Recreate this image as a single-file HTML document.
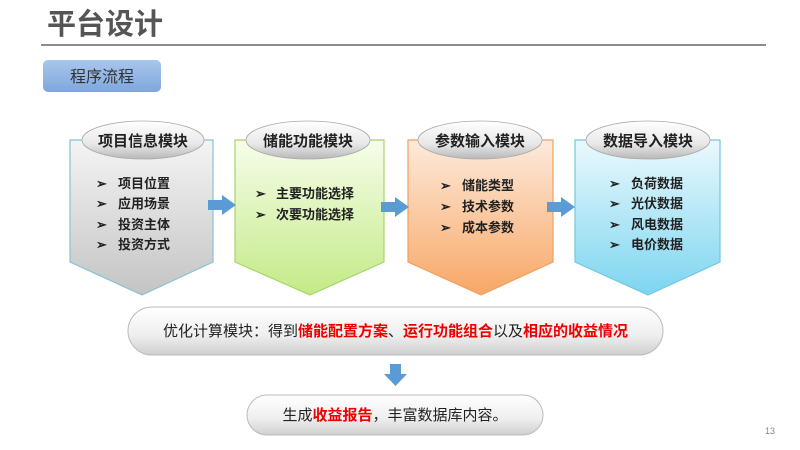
<!DOCTYPE html>
<html><head><meta charset="utf-8"><style>
html,body{margin:0;padding:0;background:#fff;}
svg{display:block;font-family:"Liberation Sans","Noto Sans CJK SC",sans-serif;}
</style></head><body>
<svg width="800" height="450" viewBox="0 0 800 450" xmlns="http://www.w3.org/2000/svg">
<defs>
<linearGradient id="g1" x1="0" y1="0" x2="0" y2="1"><stop offset="0" stop-color="#f4f4f4"/><stop offset="1" stop-color="#c4c4c4"/></linearGradient>
<linearGradient id="g2" x1="0" y1="0" x2="0" y2="1"><stop offset="0" stop-color="#f6fdea"/><stop offset="1" stop-color="#c4ea86"/></linearGradient>
<linearGradient id="g3" x1="0" y1="0" x2="0" y2="1"><stop offset="0" stop-color="#fdeadb"/><stop offset="1" stop-color="#f8a766"/></linearGradient>
<linearGradient id="g4" x1="0" y1="0" x2="0" y2="1"><stop offset="0" stop-color="#eaf9fd"/><stop offset="1" stop-color="#7dd5f0"/></linearGradient>
<linearGradient id="ge" x1="0" y1="0" x2="0" y2="1"><stop offset="0" stop-color="#ffffff"/><stop offset="0.6" stop-color="#e8e8e8"/><stop offset="1" stop-color="#b8b8b8"/></linearGradient>
<linearGradient id="gb" x1="0" y1="0" x2="0" y2="1"><stop offset="0" stop-color="#a9c6ec"/><stop offset="1" stop-color="#7fa7dc"/></linearGradient>
<linearGradient id="gp" x1="0" y1="0" x2="0" y2="1"><stop offset="0" stop-color="#ffffff"/><stop offset="0.6" stop-color="#eeeeee"/><stop offset="1" stop-color="#cfcfcf"/></linearGradient>
</defs>
<text x="47" y="34" font-size="29" font-weight="bold" fill="#555">平台设计</text>
<line x1="41" y1="45" x2="766" y2="45" stroke="#666" stroke-width="1.5"/>
<rect x="43" y="60" width="118" height="32" rx="5" fill="url(#gb)"/>
<text x="102" y="82" font-size="16" fill="#333" text-anchor="middle">程序流程</text>

<g stroke-width="1.2">
<path d="M70 140 H213 V262 L142 295 L70 262 Z" fill="url(#g1)" stroke="#86c3d4"/>
<path d="M235 140 H384 V262 L310 295 L235 262 Z" fill="url(#g2)" stroke="#a6d46a"/>
<path d="M408 140 H553 V262 L481 295 L408 262 Z" fill="url(#g3)" stroke="#f0a060"/>
<path d="M575 140 H720 V262 L648 295 L575 262 Z" fill="url(#g4)" stroke="#70c8e0"/>
</g>
<g fill="url(#ge)" stroke="#aaa" stroke-width="0.8">
<ellipse cx="143" cy="140" rx="61" ry="19"/>
<ellipse cx="308" cy="140" rx="62" ry="19"/>
<ellipse cx="480" cy="140" rx="62" ry="19"/>
<ellipse cx="648" cy="140" rx="62" ry="19"/>
</g>
<g font-size="15" font-weight="bold" fill="#222" text-anchor="middle">
<text x="143" y="146">项目信息模块</text>
<text x="308" y="146">储能功能模块</text>
<text x="480" y="146">参数输入模块</text>
<text x="648" y="146">数据导入模块</text>
</g>
<g fill="#5b9bd5">
<path d="M208 200 H222 V195 L236 205 L222 215 V210 H208 Z"/>
<path d="M381 202 H395 V197 L409 207 L395 217 V212 H381 Z"/>
<path d="M547 202 H561 V197 L575 207 L561 217 V212 H547 Z"/>
<path d="M390 364 H401 V374 H407 L395.5 386 L384 374 H390 Z"/>
</g>
<g font-size="13" font-weight="bold" fill="#222">
<text x="96" y="188">➢</text><text x="118" y="188">项目位置</text>
<text x="96" y="208">➢</text><text x="118" y="208">应用场景</text>
<text x="96" y="229">➢</text><text x="118" y="229">投资主体</text>
<text x="96" y="249">➢</text><text x="118" y="249">投资方式</text>
<text x="255" y="198">➢</text><text x="276" y="198">主要功能选择</text>
<text x="255" y="219">➢</text><text x="276" y="219">次要功能选择</text>
<text x="440" y="190">➢</text><text x="462" y="190">储能类型</text>
<text x="440" y="211">➢</text><text x="462" y="211">技术参数</text>
<text x="440" y="232">➢</text><text x="462" y="232">成本参数</text>
<text x="609" y="188">➢</text><text x="631" y="188">负荷数据</text>
<text x="609" y="208">➢</text><text x="631" y="208">光伏数据</text>
<text x="609" y="229">➢</text><text x="631" y="229">风电数据</text>
<text x="609" y="249">➢</text><text x="631" y="249">电价数据</text>
</g>
<rect x="128" y="307" width="535" height="48" rx="24" fill="url(#gp)" stroke="#bbb"/>
<text x="395.5" y="336" font-size="15" fill="#222" text-anchor="middle">优化计算模块：得到<tspan fill="#e00" font-weight="bold">储能配置方案</tspan>、<tspan fill="#e00" font-weight="bold">运行功能组合</tspan>以及<tspan fill="#e00" font-weight="bold">相应的收益情况</tspan></text>
<rect x="247" y="395" width="296" height="40" rx="20" fill="url(#gp)" stroke="#bbb"/>
<text x="395" y="420" font-size="15" fill="#222" text-anchor="middle">生成<tspan fill="#e00" font-weight="bold">收益报告</tspan>，丰富数据库内容。</text>
<text x="765" y="434" font-size="9" fill="#888">13</text>
</svg>
</body></html>
